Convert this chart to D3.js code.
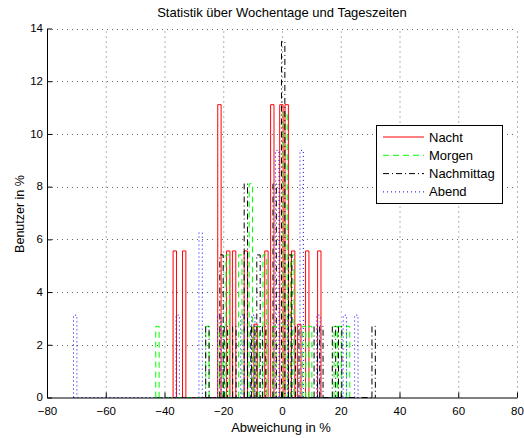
<!DOCTYPE html>
<html><head><meta charset="utf-8">
<script src="https://cdn.jsdelivr.net/npm/d3@7/dist/d3.min.js"></script>
<style>
body{margin:0;background:#fff;}
svg text{font-family:"Liberation Sans",Arial,Helvetica,sans-serif;fill:#000;}
</style></head><body>
<svg id="chart" width="524" height="438"></svg>
<script>
// ---- data (bin centre in %, share of users in %) ----
const xTicks = [-80,-60,-40,-20,0,20,40,60,80];
const yTicks = [0,2,4,6,8,10,12,14];
const seriesNames = ["Nacht","Morgen","Nachmittag","Abend"];

const nachtX = [-36.5,-33.3,-21.3,-18.3,-16.3,-12.3,-9.0,-5.3,-3.3,-0.2,1.6,3.8,5.9,8.6,12.7];
const nachtY = [5.56,5.56,11.11,5.56,5.56,5.56,2.78,5.56,11.11,11.11,11.11,5.56,2.78,5.56,5.56];

const morgenX = [-42.4,-25.4,-20.7,-18.5,-14.2,-10.6,-8.3,-5.9,-2.6,1.2,3.5,7.5,9.6,18.3,19.6,22.5];
const morgenY = [2.70,2.70,2.70,5.41,5.41,8.11,2.70,5.41,2.70,10.81,5.41,2.70,2.70,2.70,2.70,2.70];

const nachmX = [-25.4,-20.6,-19.1,-16.2,-12.3,-11.2,-9.8,-8.0,-6.1,-2.5,0.4,2.8,5.2,11.5,13.4,17.7,19.8,31.2];
const nachmY = [2.70,5.41,2.70,2.70,8.11,2.70,2.70,5.41,2.70,8.11,13.51,5.41,2.70,2.70,2.70,2.70,2.70,2.70];

const abendX = [-70.4,-35.5,-27.7,-21.4,-13.5,-9.8,-1.6,2.5,6.7,12.4,21.4,25.3];
const abendY = [3.125,3.125,6.25,3.125,3.125,3.125,9.375,3.125,9.375,3.125,3.125,3.125];

const colors = ["#ff0000","#00ff00","#000000","#0000ff"];
const dashes = [null,"6,4","6,3,1,3","1,3"];
const binWidth = 1.15;

// ---- chart ----
const svg = d3.select("#chart");
const L=47,R=517,T=28.5,B=397.5;
const x = d3.scaleLinear().domain([-80,80]).range([L,R]);
const y = d3.scaleLinear().domain([0,14]).range([B,T]);

// grid
const g = svg.append("g");
g.selectAll(".gx").data(xTicks.slice(1)).join("line")
  .attr("x1",d=>x(d)+0.5).attr("x2",d=>x(d)+0.5).attr("y1",B).attr("y2",T)
  .attr("stroke","#000").attr("stroke-width",1).attr("stroke-dasharray","1,4").attr("opacity",0.6);
g.selectAll(".gy").data(yTicks.slice(1)).join("line")
  .attr("x1",L).attr("x2",R).attr("y1",d=>Math.round(y(d))+0.5).attr("y2",d=>Math.round(y(d))+0.5)
  .attr("stroke","#000").attr("stroke-width",1).attr("stroke-dasharray","1,4").attr("opacity",0.6);

// bars
const all = [[nachtX,nachtY],[morgenX,morgenY],[nachmX,nachmY],[abendX,abendY]];
all.forEach(([xs,ys],i)=>{
  const p = d3.path();
  const x0 = d3.min(xs)-binWidth/2, x1 = d3.max(xs)+binWidth/2;
  p.moveTo(x(x0),y(0)); p.lineTo(x(x1),y(0));
  xs.forEach((c,j)=>{
    const a=x(c-binWidth/2), b=x(c+binWidth/2);
    p.moveTo(a,y(0)); p.lineTo(a,y(ys[j])); p.lineTo(b,y(ys[j])); p.lineTo(b,y(0));
  });
  svg.append("path").attr("d",p.toString()).attr("fill","none")
    .attr("stroke",colors[i]).attr("stroke-width",1)
    .attr("stroke-dasharray",dashes[i]);
});

// axes
const ax = svg.append("g").attr("transform",`translate(0,${B})`)
  .call(d3.axisBottom(x).tickValues(xTicks).tickSizeInner(-5).tickSizeOuter(0).tickPadding(9));
const ay = svg.append("g").attr("transform",`translate(${L},0)`)
  .call(d3.axisLeft(y).tickValues(yTicks).tickSizeInner(-5).tickSizeOuter(0).tickPadding(4));
[ax,ay].forEach(a=>{
  a.selectAll("text").attr("font-size","11.5px").attr("font-family",'"Liberation Sans",Arial,sans-serif');
  a.select(".domain").attr("stroke","#000");
  a.selectAll(".tick line").attr("stroke","#000");
});
ay.selectAll("text").attr("dy","0.28em");

// titles
svg.append("text").attr("x",282).attr("y",17).attr("text-anchor","middle").attr("font-size","13px")
  .text("Statistik über Wochentage und Tageszeiten");
svg.append("text").attr("x",281).attr("y",432).attr("text-anchor","middle").attr("font-size","13px")
  .text("Abweichung in %");
svg.append("text").attr("transform","translate(24,214) rotate(-90)").attr("text-anchor","middle").attr("font-size","12.5px")
  .text("Benutzer in %");

// legend
const lg = svg.append("g");
lg.append("rect").attr("x",376.5).attr("y",125.5).attr("width",126).attr("height",78)
  .attr("fill","#fff").attr("stroke","#000");
seriesNames.forEach((n,i)=>{
  const yy = 137 + i*18.3;
  lg.append("line").attr("x1",383).attr("x2",424).attr("y1",yy).attr("y2",yy)
    .attr("stroke",colors[i]).attr("stroke-dasharray",dashes[i]);
  lg.append("text").attr("x",429).attr("y",yy+4.5).attr("font-size","13px").text(n);
});
</script></body></html>
